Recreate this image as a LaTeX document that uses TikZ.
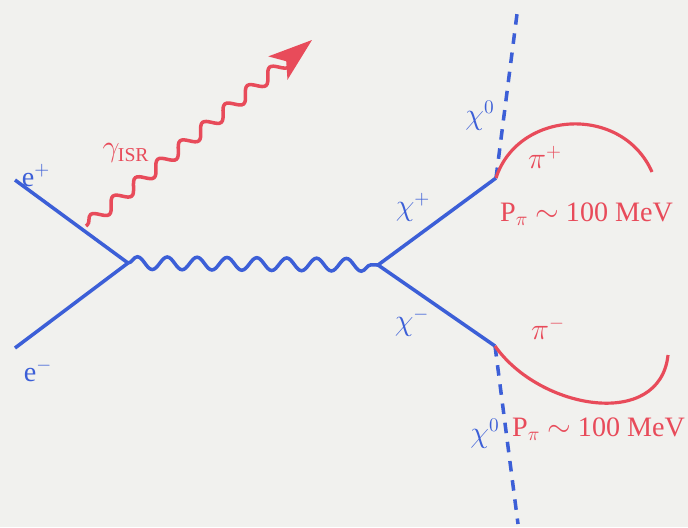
\documentclass[tikz,border=0pt]{standalone}
\usepackage{fontspec}
\setmainfont{Liberation Serif}
\usetikzlibrary{decorations.pathmorphing,arrows.meta}
\definecolor{bgpaper}{RGB}{241,241,238}
\definecolor{fblue}{RGB}{60,95,215}
\definecolor{fred}{RGB}{232,75,90}
\begin{document}
\begin{tikzpicture}[
    x=0.02cm, y=-0.02cm,
    font=\fontsize{16}{18}\selectfont,
    fermion/.style={draw=fblue, line width=2pt},
    photon/.style={draw=fblue, line width=2pt,
                   decorate, decoration={snake, amplitude=3.6pt,
                   segment length=17pt}},
    isr/.style={draw=fred, line width=2pt,
                -{Stealth[length=25pt, width=17pt, inset=6pt]},
                decorate, decoration={snake, amplitude=3.4pt,
                segment length=16.5pt, pre length=1pt, post length=14pt}},
    neutral/.style={draw=fblue, line width=2pt, dash pattern=on 6pt off 5pt},
    pion/.style={draw=fred, line width=1.8pt},
    blab/.style={text=fblue, inner sep=1pt},
    rlab/.style={text=fred, inner sep=1pt},
]
% paper background
\fill[bgpaper] (0,0) rectangle (688,527);

% vertices and line ends
\coordinate (ep) at (15,180);
\coordinate (em) at (15,348);
\coordinate (v1) at (128,263);
\coordinate (v2) at (378,265);
\coordinate (cp) at (496,178);
\coordinate (cm) at (495,346);
\coordinate (nup) at (517,14);
\coordinate (ndn) at (518,524);
\coordinate (isr0) at (86,226);
\coordinate (isr1) at (312,40);

% incoming beams and s-channel photon
\draw[fermion] (ep) -- (v1);
\draw[fermion] (em) -- (v1);
\draw[photon] (v1) -- (v2);

% initial state radiation
\draw[isr] (isr0) -- (isr1);

% chargino pair
\draw[fermion] (v2) -- (cp);
\draw[fermion] (v2) -- (cm);

% neutralinos (dashed)
\draw[neutral] (cp) -- (nup);
\draw[neutral] (cm) -- (ndn);

% soft pions
\draw[pion] (cp) .. controls (518,110) and (622,104) .. (652,172);
\draw[pion] (cm) .. controls (540,410) and (660,430) .. (668,355);

% labels
\node[blab] (lep) at (36,176) {e$^{+}$};
\node[blab] (lem) at (38,371) {e$^{-}$};
\node[rlab] (lisr) at (126,153) {$\gamma_{\mathrm{ISR}}$};
\node[blab] (lcp) at (413,207) {$\chi^{+}$};
\node[blab] (lcm) at (412,322) {$\chi^{-}$};
\node[blab] (lnup) at (480,116) {$\chi^{0}$};
\node[blab] (lndn) at (485,434) {$\chi^{0}$};
\node[rlab] (lpip) at (545,157) {$\pi^{+}$};
\node[rlab] (lpim) at (548,328) {$\pi^{-}$};
\node[rlab, anchor=west] (lpp) at (498,214) {P$_{\pi}$ $\sim$ 100 MeV};
\node[rlab, anchor=west] (lpm) at (510,429) {P$_{\pi}$ $\sim$ 100 MeV};
\end{tikzpicture}
\end{document}
